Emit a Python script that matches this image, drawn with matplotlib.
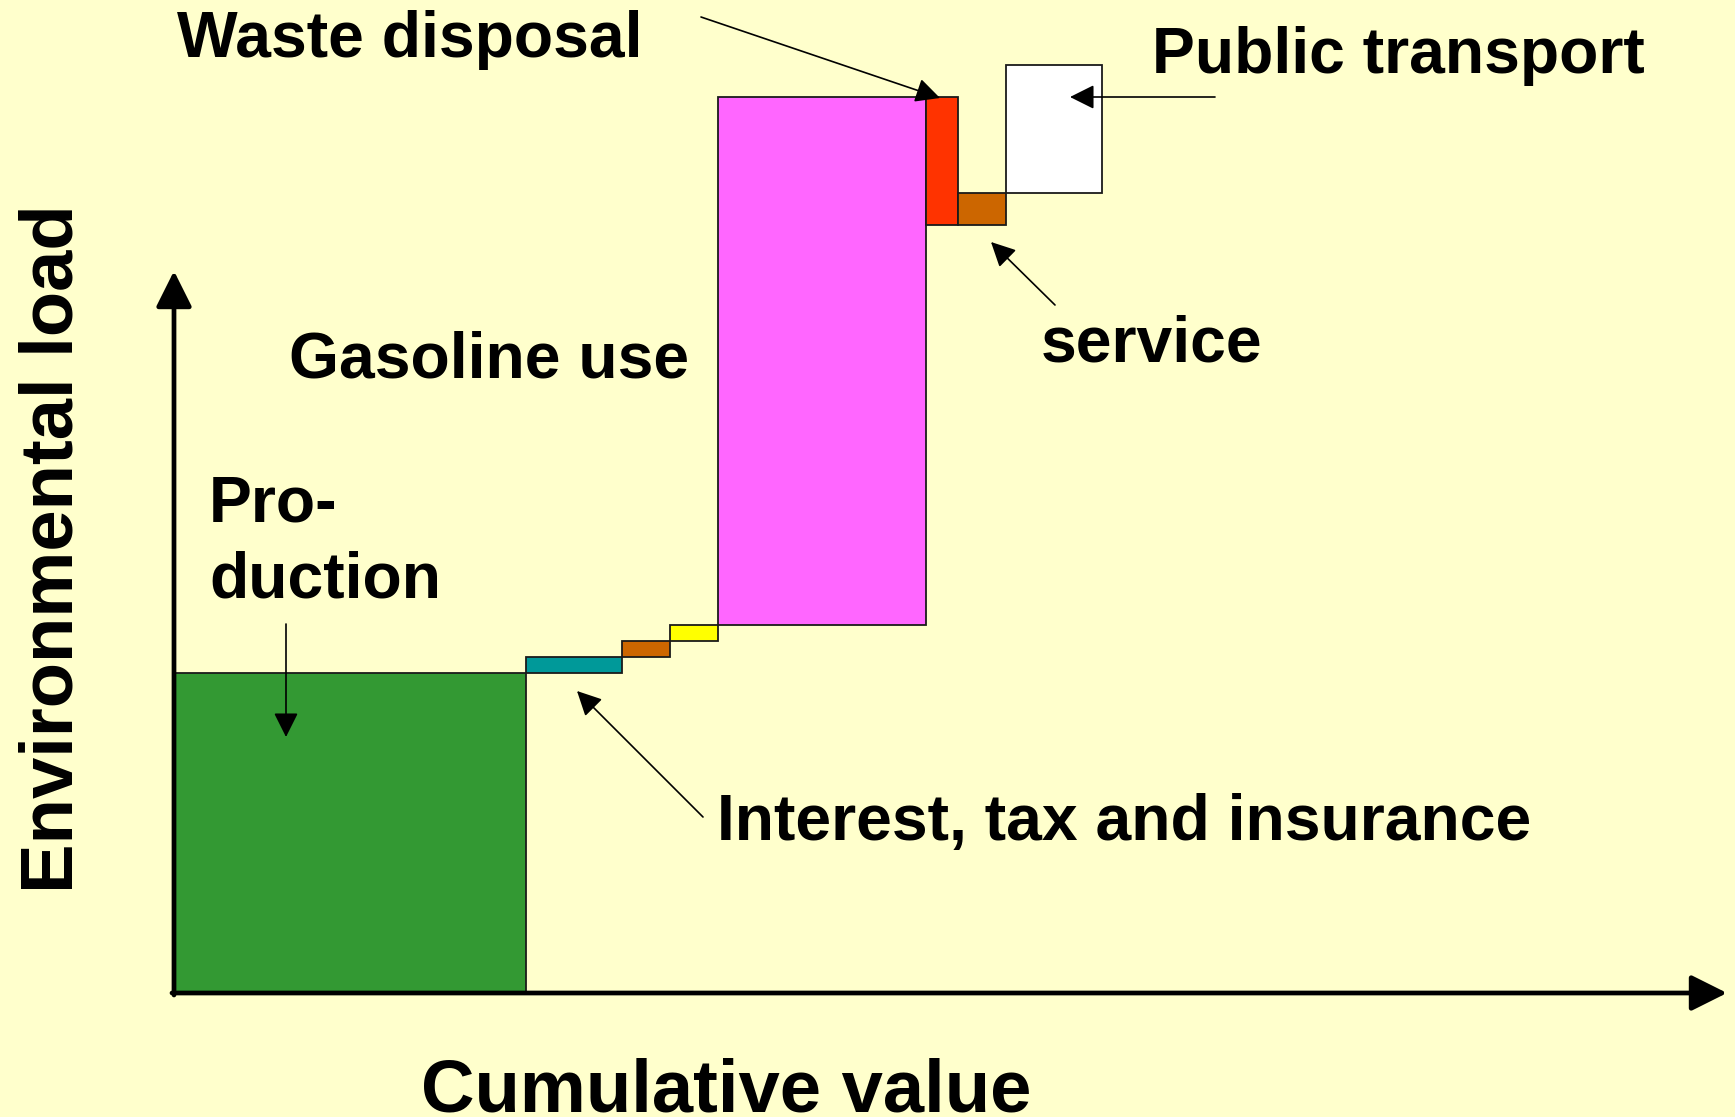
import matplotlib
matplotlib.use("Agg")
import matplotlib.pyplot as plt
import numpy as np

# ---- data (arbitrary units) ----
categories = ["Production", "Interest, tax and insurance", "Item A", "Item B",
              "Gasoline use", "Waste disposal", "Service", "Public transport"]
widths = [44, 12, 6, 6, 26, 4, 6, 12]          # cumulative value (x extent)
changes = [40, 2, 2, 2, 66, -16, 4, 16]         # environmental load step
colors = ["#339933", "#009999", "#CC6600", "#FFFF00",
          "#FF66FF", "#FF3300", "#CC6600", "#FFFFFF"]

# ---- layout constants ----
W_PX, H_PX = 1735, 1117
X0_PX, Y0_PX, PPU = 174, 993, 8.0   # origin pixel and pixels per unit
BG = "#FFFFCC"

plt.rcParams["font.family"] = ["Liberation Sans", "DejaVu Sans"]
plt.rcParams["font.weight"] = "bold"

fig = plt.figure(figsize=(W_PX / 100, H_PX / 100), dpi=100, facecolor=BG)
ax = fig.add_axes([0, 0, 1, 1])
ax.set_facecolor(BG)
ax.set_xlim(-X0_PX / PPU, (W_PX - X0_PX) / PPU)
ax.set_ylim(-(H_PX - Y0_PX) / PPU, Y0_PX / PPU)
ax.axis("off")


def P(px, py):
    """pixel position in the reference -> data coordinates"""
    return ((px - X0_PX) / PPU, (Y0_PX - py) / PPU)


# ---- waterfall bars ----
lefts = np.concatenate([[0], np.cumsum(widths)[:-1]])
cum = np.cumsum(changes)
bottoms = np.concatenate([[0], cum[:-1]])
ax.bar(lefts, changes, width=widths, bottom=bottoms, align="edge",
       color=colors, edgecolor="#1a1a1a", linewidth=1.3, zorder=2)

# ---- axes arrows ----
big = dict(arrowstyle="-|>,head_length=2.2,head_width=1.1", lw=3.4,
           color="black", mutation_scale=10, shrinkA=0, shrinkB=0)
ax.annotate("", xy=P(174, 271), xytext=P(174, 995), arrowprops=big, zorder=5)
ax.annotate("", xy=P(1727, 993), xytext=P(172, 993), arrowprops=big, zorder=5)

# ---- axis titles ----
ax.text(*P(73, 549), "Environmental load", rotation=90, rotation_mode="anchor",
        ha="center", va="baseline", fontsize=53.5, fontweight="bold")
ax.text(*P(726, 1111), "Cumulative value", ha="center", va="baseline",
        fontsize=53.5, fontweight="bold")

# ---- labels ----
fs = 46.3
labels = [
    ("Waste disposal", (177, 57)),
    ("Public transport", (1152, 73)),
    ("Gasoline use", (289, 377)),
    ("Pro-", (209, 522)),
    ("duction", (209, 598)),
    ("service", (1041, 362)),
    ("Interest, tax and insurance", (717, 840)),
]
for txt, (px, py) in labels:
    ax.text(*P(px, py), txt, ha="left", va="baseline", fontsize=fs,
            fontweight="bold")

# ---- pointer arrows ----
small = dict(arrowstyle="-|>,head_length=1.5,head_width=0.75", lw=1.2,
             color="black", mutation_scale=10, shrinkA=0, shrinkB=0)
pointers = [
    ((701, 17), (940, 98)),      # waste disposal
    ((1215, 97), (1070, 97)),    # public transport
    ((1055, 305), (991, 242)),   # service
    ((703, 817), (577, 691)),    # interest, tax and insurance
    ((286, 624), (286, 737)),    # production
]
for tail, tip in pointers:
    ax.annotate("", xy=P(*tip), xytext=P(*tail), arrowprops=small, zorder=6)

fig.savefig("out.png", dpi=100, facecolor=BG)
